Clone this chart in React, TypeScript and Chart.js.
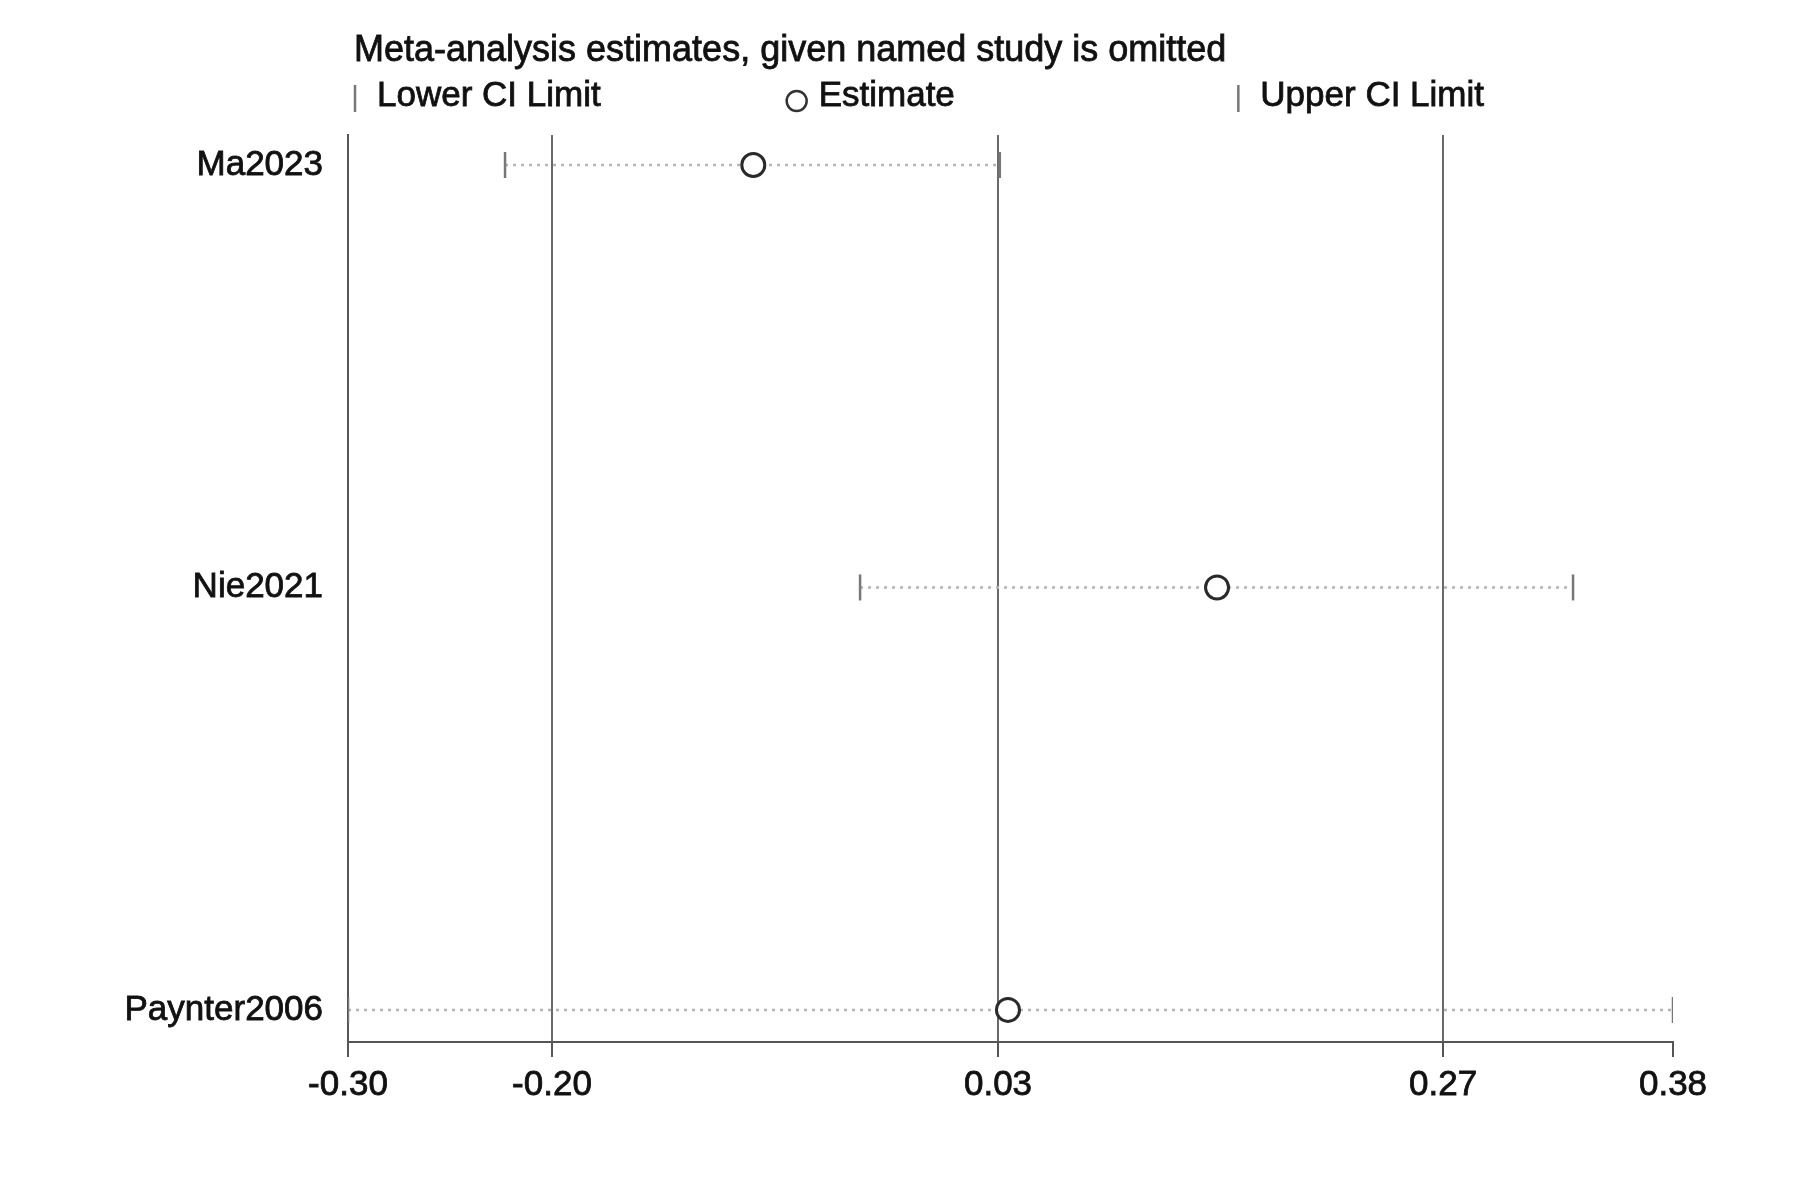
import React, { useEffect, useRef } from "react";
import { Chart, registerables } from "chart.js";

Chart.register(...registerables);

// ---- data ----
const studies = ["Ma2023", "Nie2021", "Paynter2006"];
const estimates = [-0.092, 0.146, 0.0387];
const lowerCI = [-0.2194, -0.0372, -0.3];
const upperCI = [0.0345, 0.3287, 0.38];
const tickValues = [-0.3, -0.1953, 0.0336, 0.262, 0.38];
const tickLabels = ["-0.30", "-0.20", "0.03", "0.27", "0.38"];
const titleText = "Meta-analysis estimates, given named study is omitted";
const legendLabels = ["Lower CI Limit", "Estimate", "Upper CI Limit"];

const FONT = '"Liberation Sans", Arial, Helvetica, sans-serif';
const TEXT = "#111";

const legendPlugin = {
  id: "stataLegend",
  afterDraw(chart: any) {
    const { ctx, chartArea } = chart;
    ctx.save();
    ctx.fillStyle = TEXT;
    ctx.strokeStyle = TEXT;
    ctx.lineWidth = 0.8;
    ctx.textBaseline = "middle";
    ctx.textAlign = "left";
    ctx.font = `36px ${FONT}`;
    ctx.fillText(titleText, chartArea.left + 6, 51);
    ctx.strokeText(titleText, chartArea.left + 6, 51);

    ctx.font = `35px ${FONT}`;
    const colW = (chartArea.right - chartArea.left) / 3;
    const rowY = 96;
    legendLabels.forEach((label, i) => {
      const x0 = chartArea.left + 7 + i * colW;
      ctx.lineWidth = 2.5;
      if (i === 1) {
        ctx.strokeStyle = "#333";
        ctx.beginPath();
        ctx.arc(x0, rowY + 5, 10, 0, Math.PI * 2);
        ctx.fillStyle = "#fff";
        ctx.fill();
        ctx.stroke();
      } else {
        ctx.strokeStyle = "#777";
        ctx.beginPath();
        ctx.moveTo(x0, rowY - 11);
        ctx.lineTo(x0, rowY + 16);
        ctx.stroke();
      }
      ctx.fillStyle = TEXT;
      ctx.strokeStyle = TEXT;
      ctx.lineWidth = 0.8;
      ctx.fillText(label, x0 + 22, rowY);
      ctx.strokeText(label, x0 + 22, rowY);
    });
    ctx.restore();
  },
};

export default function App() {
  const canvasRef = useRef<HTMLCanvasElement | null>(null);

  useEffect(() => {
    document.body.style.margin = "0";
    const canvas = canvasRef.current;
    if (!canvas) return;

    const lineSets = studies.map((s, i) => ({
      type: "line" as const,
      label: s + " CI",
      data: [
        { x: lowerCI[i], y: i },
        { x: upperCI[i], y: i },
      ],
      showLine: true,
      borderColor: "#b4b4b4",
      borderWidth: 2.5,
      borderDash: [3, 5],
      pointRadius: 0,
      order: 3,
    }));

    const chart = new Chart(canvas, {
      type: "scatter",
      data: {
        datasets: [
          ...lineSets,
          {
            label: "Lower CI Limit",
            data: studies.map((_, i) => ({ x: lowerCI[i], y: i })),
            pointStyle: "line",
            rotation: 90,
            pointRadius: 13,
            borderColor: "#777",
            borderWidth: 2.5,
            order: 2,
          } as any,
          {
            label: "Upper CI Limit",
            data: studies.map((_, i) => ({ x: upperCI[i], y: i })),
            pointStyle: "line",
            rotation: 90,
            pointRadius: 13,
            borderColor: "#777",
            borderWidth: 2.5,
            order: 2,
          } as any,
          {
            label: "Estimate",
            data: studies.map((_, i) => ({ x: estimates[i], y: i })),
            pointStyle: "circle",
            pointRadius: 11.5,
            borderColor: "#2a2a2a",
            backgroundColor: "#fff",
            borderWidth: 3,
            order: 1,
          } as any,
        ],
      },
      options: {
        animation: false,
        responsive: false,
        maintainAspectRatio: false,
        events: [],
        layout: { padding: { top: 135, right: 127, left: 0, bottom: 0 } },
        plugins: {
          legend: { display: false },
          tooltip: { enabled: false },
          title: { display: false },
        },
        scales: {
          x: {
            type: "linear",
            min: -0.3,
            max: 0.38,
            afterBuildTicks: (scale: any) => {
              scale.ticks = tickValues.map((v) => ({ value: v }));
            },
            afterFit: (scale: any) => {
              scale.height = 158;
            },
            ticks: {
              autoSkip: false,
              maxRotation: 0,
              padding: 7,
              color: TEXT,
              textStrokeColor: TEXT,
              textStrokeWidth: 0.8,
              font: { family: FONT, size: 35 },
              callback: (_v: any, idx: number) => tickLabels[idx],
            },
            grid: {
              color: (c: any) =>
                c.index === 0 || c.index === tickValues.length - 1 ? "rgba(0,0,0,0)" : "#6a6a6a",
              lineWidth: 2,
              tickLength: 15,
              tickColor: "#555",
              tickWidth: 2,
            },
            border: { display: true, color: "#555", width: 2 },
          },
          y: {
            type: "linear",
            reverse: true,
            min: -0.071,
            max: 2.076,
            afterBuildTicks: (scale: any) => {
              scale.ticks = studies.map((_, i) => ({ value: i }));
            },
            afterFit: (scale: any) => {
              scale.width = 348;
            },
            ticks: {
              autoSkip: false,
              padding: 25,
              color: TEXT,
              textStrokeColor: TEXT,
              textStrokeWidth: 0.8,
              font: { family: FONT, size: 35 },
              callback: (_v: any, idx: number) => studies[idx],
            },
            grid: { drawOnChartArea: false, drawTicks: false },
            border: { display: true, color: "#555", width: 2 },
          },
        },
      } as any,
      plugins: [legendPlugin],
    });

    return () => chart.destroy();
  }, []);

  return (
    <div style={{ position: "fixed", left: 0, top: 0, width: 1800, height: 1200, background: "#fff" }}>
      <canvas ref={canvasRef} width={1800} height={1200} style={{ width: 1800, height: 1200, display: "block" }} />
    </div>
  );
}
